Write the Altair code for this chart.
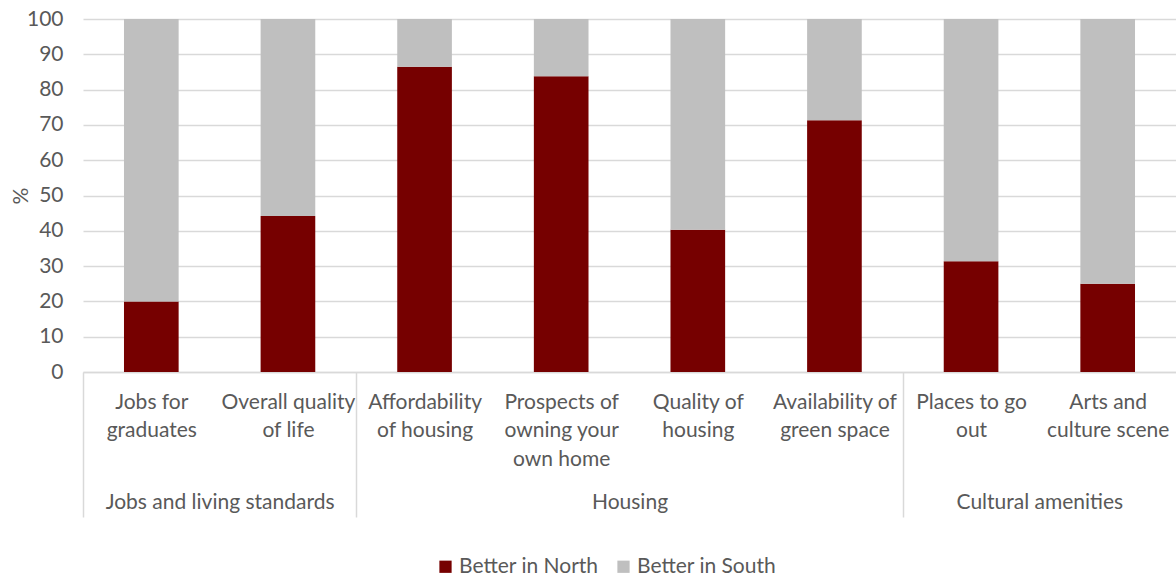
import json
import altair as alt
import pandas as pd

# ---- data ----
categories = [
    "Jobs for|graduates",
    "Overall quality|of life",
    "Affordability|of housing",
    "Prospects of|owning your|own home",
    "Quality of|housing",
    "Availability of|green space",
    "Places to go|out",
    "Arts and|culture scene",
]
groups = ["Jobs and living standards", "Housing", "Cultural amenities"]
group_sizes = [2, 4, 2]
north = [20.0, 44.2, 86.5, 83.8, 40.3, 71.3, 31.4, 25.0]
south = [80.0, 55.8, 13.5, 16.2, 59.7, 28.7, 68.6, 75.0]
series = ["Better in North", "Better in South"]
colors = ["#760000", "#bfbfbf"]

FONT = "Lato"
TXT = "#595959"
GRID = "#d9d9d9"
FS = 21

# ---- tables ----
rows = []
for i, cat in enumerate(categories):
    for s_i, (s, vals) in enumerate(zip(series, [north, south])):
        rows.append({"idx": i, "x0": i + 0.3, "x1": i + 0.7, "cat": cat,
                     "series": s, "order": s_i, "value": vals[i]})
df = pd.DataFrame(rows)

starts, mids = [], []
pos = 0
for n in group_sizes:
    starts.append(pos)
    mids.append(pos + n / 2)
    pos += n
gdf = pd.DataFrame({"group": groups, "start": starts, "mid": mids})

n_cat = len(categories)
xscale = alt.Scale(domain=[0, n_cat], nice=False, zero=False, padding=0)

cat_expr = f"split({json.dumps(categories)}[round(datum.value - 0.5)], '|')"
grp_expr = ""
for g, m in zip(groups[:-1], mids[:-1]):
    grp_expr += f"datum.value == {m} ? {json.dumps(g)} : "
grp_expr += json.dumps(groups[-1])

bars = alt.Chart(df).transform_stack(
    stack="value", groupby=["idx"], as_=["y0", "y1"],
    sort=[alt.SortField("order", order="ascending")],
).mark_bar().encode(
    x=alt.X("x0:Q", scale=xscale, axis=alt.Axis(
        orient="bottom", values=[i + 0.5 for i in range(n_cat)], labelExpr=cat_expr,
        ticks=False, grid=False, title=None, domainColor=GRID, domainWidth=1.5,
        labelFont=FONT, labelFontSize=FS, labelColor=TXT, labelPadding=19,
        labelBaseline="top", labelLineHeight=28.5, labelAngle=0, labelAlign="center",
        labelOverlap=False, labelFlush=False, labelBound=False, labelLimit=0)),
    x2="x1:Q",
    y=alt.Y("y0:Q", scale=alt.Scale(domain=[0, 100], nice=False),
            axis=alt.Axis(values=list(range(0, 101, 10)), domain=False, ticks=False,
                          gridColor=GRID, gridWidth=1.5, labelFont=FONT, labelFontSize=FS,
                          labelColor=TXT, labelPadding=20, title="%", titleFont=FONT,
                          titleFontSize=FS, titleColor=TXT, titleFontWeight="normal",
                          titleX=-52)),
    y2="y1:Q",
    color=alt.Color("series:N", scale=alt.Scale(domain=series, range=colors),
                    legend=alt.Legend(orient="none", legendX=352, legendY=537,
                                      direction="horizontal", title=None,
                                      symbolType="square", symbolSize=150,
                                      symbolStrokeWidth=0, labelFont=FONT,
                                      labelFontSize=FS, labelColor=TXT,
                                      columnPadding=14, labelOffset=3, labelLimit=0)),
)

seps = alt.Chart(gdf).mark_point(opacity=0).encode(
    x=alt.X("start:Q", scale=xscale, axis=alt.Axis(
        orient="bottom", values=starts, labels=False, domain=False, grid=False,
        ticks=True, tickSize=145, tickColor=GRID, tickWidth=1.5, title=None)),
)

grp = alt.Chart(gdf).mark_point(opacity=0).encode(
    x=alt.X("mid:Q", scale=xscale, axis=alt.Axis(
        orient="bottom", values=mids, labelExpr=grp_expr, labels=True, domain=False,
        grid=False, ticks=False, title=None, labelFont=FONT, labelFontSize=FS,
        labelColor=TXT, labelPadding=119, labelBaseline="top", labelAngle=0,
        labelAlign="center", labelOverlap=False, labelFlush=False, labelBound=False,
        labelLimit=0)),
)

chart = alt.layer(bars, seps, grp).resolve_axis(x="independent").properties(
    width=1093, height=353,
    autosize=alt.AutoSizeParams(type="none"),
    padding={"left": 83, "top": 19, "right": 0, "bottom": 204},
).configure_view(stroke=None)

chart.save("out.html", embed_options={"renderer": "svg", "actions": False})
